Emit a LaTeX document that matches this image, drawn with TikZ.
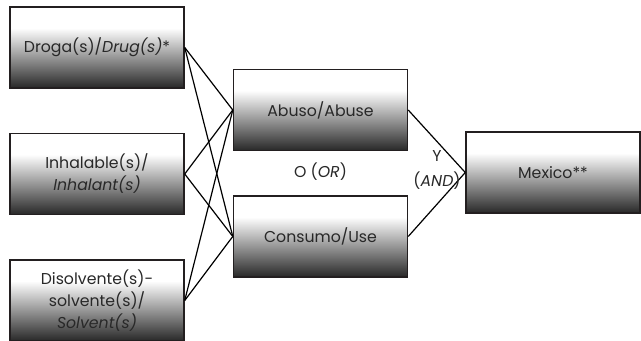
\documentclass[tikz,border=0pt]{standalone}
\usepackage{fontspec}
\setmainfont{Poppins}
\usepackage{tikz}
\usetikzlibrary{positioning}
\definecolor{boxdark}{RGB}{40,40,40}
\definecolor{boxline}{RGB}{35,31,32}
\definecolor{txtgray}{RGB}{40,40,40}
\pgfdeclareverticalshading{boxshade}{100bp}{color(0bp)=(boxdark); color(25bp)=(boxdark); color(62bp)=(white); color(100bp)=(white)}
\tikzset{link/.style={line width=0.9pt,draw=black}}
\begin{document}
\begin{tikzpicture}[x=0.75pt,y=-0.75pt,myBox/.style={rectangle,draw=boxline,line width=1.1pt,shading=boxshade,text=txtgray,align=center,minimum width=130.5pt,minimum height=60.75pt,inner sep=2pt,font=\fontsize{11.8}{16.5}\selectfont},myLabel/.style={text=txtgray,align=center,font=\fontsize{11.8}{18.5}\selectfont}]
	\useasboundingbox (0,0) rectangle (641,340);
	\node[myBox] (drug) at (97,47.5) {Droga(s)/\textit{Drug(s)}*};
	\node[myBox,below=33pt of drug] (inhal) {Inhalable(s)/\\\textit{Inhalant(s)}};
	\node[myBox,below=33pt of inhal] (solv) {Disolvente(s)-\\solvente(s)/\\\textit{Solvent(s)}};
	\node[myBox] (abuse) at (320.5,110) {Abuso/Abuse};
	\node[myBox,below=33pt of abuse] (use) {Consumo/Use};
	\node[myBox] (mex) at (553,172.5) {Mexico**};
	\foreach \s in {drug,inhal,solv}{
	  \draw[link] (\s.east) -- (abuse.west);
	  \draw[link] (\s.east) -- (use.west);
	}
	\draw[link] (abuse.east) -- (mex.west);
	\draw[link] (use.east) -- (mex.west);
	\node[myLabel] (or) at (320.5,172) {O (\textit{OR})};
	\node[myLabel] (and) at (437,170) {Y\\(\textit{AND})};
\end{tikzpicture}
\end{document}
